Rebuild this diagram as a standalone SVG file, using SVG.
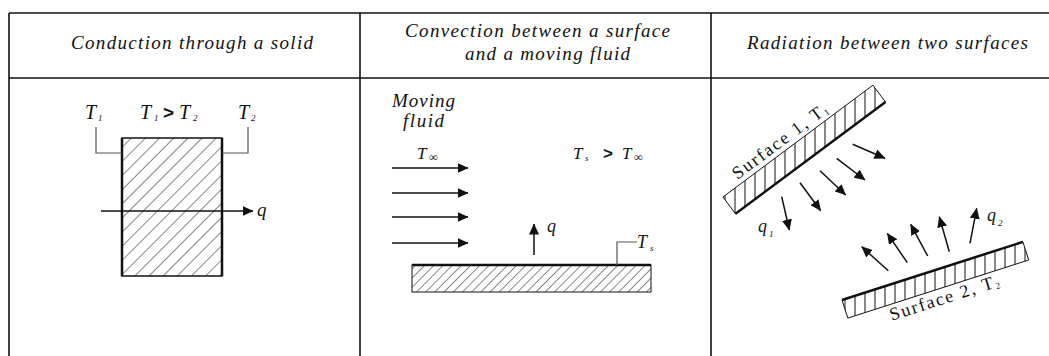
<svg xmlns="http://www.w3.org/2000/svg" width="1049" height="356" viewBox="0 0 1049 356">
<style>
  .it { font-family: 'Liberation Serif', 'Times New Roman', serif; font-style: italic; fill: #111; }
  .rm { font-family: 'Liberation Serif', 'Times New Roman', serif; fill: #111; }
  .gt { font-family: 'Liberation Sans', Arial, sans-serif; font-weight: bold; fill: #111; }
  .grid { stroke: #111; stroke-width: 1.6; fill: none; }
  .lead { stroke: #555; stroke-width: 1.2; fill: none; }
  .arr { stroke: #111; stroke-width: 1.5; fill: none; marker-end: url(#ah); }
  .thick { stroke: #111; stroke-width: 2.5; fill: none; }
</style>
<defs>
  <marker id="ah" markerUnits="userSpaceOnUse" markerWidth="11" markerHeight="10" refX="10.5" refY="5" orient="auto">
    <path d="M0,0 L11,5 L0,10 z" fill="#111"/>
  </marker>
  <pattern id="hatchWide" patternUnits="userSpaceOnUse" width="10" height="10" patternTransform="rotate(45)">
    <line x1="0" y1="0" x2="0" y2="10" stroke="#111" stroke-width="1"/>
  </pattern>
  <pattern id="hatchFine" patternUnits="userSpaceOnUse" width="6.5" height="6.5" patternTransform="rotate(45)">
    <line x1="0" y1="0" x2="0" y2="6.5" stroke="#111" stroke-width="1"/>
  </pattern>
  <pattern id="hatchVert" patternUnits="userSpaceOnUse" width="10" height="10">
    <line x1="5" y1="0" x2="5" y2="10" stroke="#111" stroke-width="1"/>
  </pattern>
</defs>
<rect width="1049" height="356" fill="#fff"/>

<g id="table">
  <line class="grid" x1="9" y1="13" x2="1049" y2="13"/>
  <line class="grid" x1="9" y1="78" x2="1049" y2="78"/>
  <line class="grid" x1="9" y1="13" x2="9" y2="356"/>
  <line class="grid" x1="360" y1="13" x2="360" y2="356"/>
  <line class="grid" x1="711" y1="13" x2="711" y2="356"/>
  <text class="it" x="71" y="49" font-size="19" textLength="242" lengthAdjust="spacing">Conduction through a solid</text>
  <text class="it" x="405" y="37" font-size="19" textLength="265" lengthAdjust="spacing">Convection between a surface</text>
  <text class="it" x="465" y="60" font-size="19" textLength="165" lengthAdjust="spacing">and a moving fluid</text>
  <text class="it" x="747" y="49" font-size="19" textLength="281" lengthAdjust="spacing">Radiation between two surfaces</text>
</g>

<g id="conduction">
  <rect x="122" y="138" width="100" height="138" fill="url(#hatchWide)" stroke="#111" stroke-width="1.5"/>
  <line class="thick" x1="122" y1="138" x2="122" y2="276" stroke-width="2.2"/>
  <line class="thick" x1="222" y1="138" x2="222" y2="276" stroke-width="2.2"/>
  <polyline class="lead" points="96,127 96,153 122,153"/>
  <polyline class="lead" points="248,127 248,153 222,153"/>
  <text class="it" x="85" y="119" font-size="20">T</text>
  <text class="it" x="98" y="121" font-size="9">1</text>
  <text class="it" x="140" y="119" font-size="20">T</text>
  <text class="it" x="154" y="121" font-size="9">1</text>
  <text class="gt" x="163" y="119" font-size="19">&gt;</text>
  <text class="it" x="179" y="119" font-size="20">T</text>
  <text class="it" x="193" y="121" font-size="9">2</text>
  <text class="it" x="238" y="119" font-size="20">T</text>
  <text class="it" x="251" y="121" font-size="9">2</text>
  <text class="it" x="257" y="216" font-size="19">q</text>
</g>

<g id="convection">
  <rect x="412" y="265" width="239" height="27" fill="url(#hatchFine)" stroke="#111" stroke-width="1"/>
  <line class="thick" x1="412" y1="265" x2="651" y2="265" stroke-width="2.2"/>
  <polyline class="lead" points="617,265 617,242 637,242"/>
  <text class="it" x="392" y="107" font-size="19" textLength="63" lengthAdjust="spacing">Moving</text>
  <text class="it" x="403" y="127" font-size="19" textLength="41" lengthAdjust="spacing">fluid</text>
  <text class="it" x="417" y="159" font-size="17">T</text>
  <text class="it" x="429" y="161" font-size="12">∞</text>
  <text class="it" x="573" y="159" font-size="17">T</text>
  <text class="it" x="585" y="161" font-size="9">s</text>
  <text class="gt" x="603" y="159" font-size="17">&gt;</text>
  <text class="it" x="622" y="159" font-size="17">T</text>
  <text class="it" x="634" y="161" font-size="12">∞</text>
  <text class="it" x="547" y="232" font-size="18">q</text>
  <text class="it" x="637" y="248" font-size="18">T</text>
  <text class="it" x="650" y="251" font-size="9">s</text>
</g>

<g id="radiation">
  <polygon points="723,197 872.9,85.2 885.5,102 735.5,213.8" fill="url(#hatchVert)" stroke="#111" stroke-width="1"/>
  <line class="thick" x1="735.5" y1="213.8" x2="885.5" y2="102"/>
  <polygon points="842,300 1022.9,241.9 1028.7,260 847.8,318.1" fill="url(#hatchVert)" stroke="#111" stroke-width="1"/>
  <line class="thick" x1="842" y1="300" x2="1022.9" y2="241.9"/>
  <text class="rm" font-size="18" letter-spacing="1.8" transform="translate(737.6,179.9) rotate(-36.7)">Surface 1, T<tspan font-size="9" dy="2">1</tspan></text>
  <text class="rm" font-size="18" letter-spacing="1.8" transform="translate(891.7,320.8) rotate(-17.8)">Surface 2, T<tspan font-size="9" dy="2">2</tspan></text>
  <text class="it" x="758" y="232" font-size="18">q</text>
  <text class="it" x="769" y="237" font-size="9">1</text>
  <text class="it" x="987" y="221" font-size="18">q</text>
  <text class="it" x="998" y="226" font-size="9">2</text>
</g>

<g id="connectors">
  <line class="arr" x1="101" y1="211" x2="253" y2="211"/>
  <line class="arr" x1="392" y1="168" x2="468" y2="168"/>
  <line class="arr" x1="392" y1="193" x2="468" y2="193"/>
  <line class="arr" x1="392" y1="217" x2="468" y2="217"/>
  <line class="arr" x1="392" y1="243" x2="468" y2="243"/>
  <line class="arr" x1="534" y1="255" x2="534" y2="224"/>
  <line class="arr" x1="781.7" y1="196.7" x2="789.3" y2="230"/>
  <line class="arr" x1="800" y1="182.7" x2="820.7" y2="210.7"/>
  <line class="arr" x1="820" y1="170.7" x2="845.7" y2="195"/>
  <line class="arr" x1="836.7" y1="158.3" x2="865" y2="180"/>
  <line class="arr" x1="852.7" y1="144.3" x2="885" y2="158.3"/>
  <line class="arr" x1="888.3" y1="270.7" x2="861.7" y2="246.7"/>
  <line class="arr" x1="907.3" y1="262.7" x2="887.3" y2="233.3"/>
  <line class="arr" x1="927.7" y1="256" x2="910.7" y2="224.3"/>
  <line class="arr" x1="949.3" y1="251.7" x2="939.3" y2="216.7"/>
  <line class="arr" x1="970" y1="243.3" x2="976.7" y2="208.3"/>
</g>
</svg>
